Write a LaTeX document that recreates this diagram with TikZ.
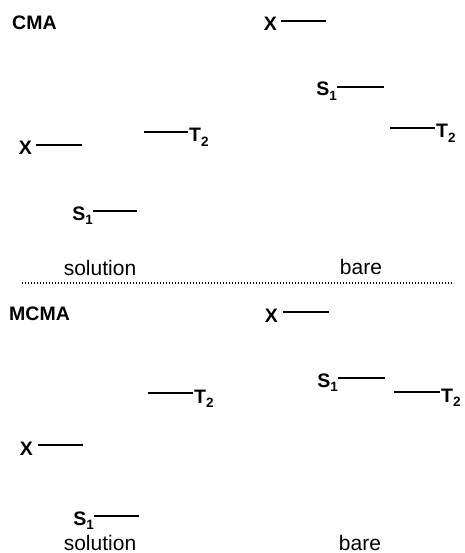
\documentclass[tikz,border=0pt]{standalone}
\usepackage{fontspec}
\setmainfont{Liberation Sans}
\newcommand\lvsub[1]{\raisebox{-0.45ex}{\fontsize{13.5}{13.5}\selectfont\bfseries #1}}
\begin{document}
\begin{tikzpicture}[x=1pt,y=-1pt,
  lab/.style={font=\bfseries\fontsize{19.5}{19.5}\selectfont, inner sep=0pt},
  captext/.style={font=\fontsize{21}{21}\selectfont, inner sep=0pt},
  lvl/.style={line width=2pt}]
\useasboundingbox (0,0) rectangle (464,553);

% ---------- top panel: CMA ----------
\node[lab, anchor=base west] (cma) at (12,30) {CMA};
% solution
\coordinate (csxa) at (36,145); \coordinate (csxb) at (82,145);
\node[lab, anchor=base east] (csx) at (32,155) {X};
\draw[lvl] (csxa) -- (csxb);
\coordinate (csta) at (144,132); \coordinate (cstb) at (188,132);
\node[lab, anchor=base west] (cst) at (189,142) {T\lvsub{2}};
\draw[lvl] (csta) -- (cstb);
\coordinate (cssa) at (93,211); \coordinate (cssb) at (137,211);
\node[lab, anchor=base east] (css) at (93,220) {S\lvsub{1}};
\draw[lvl] (cssa) -- (cssb);
\node[captext, anchor=base] (csol) at (100,275) {solution};
% bare
\coordinate (cbxa) at (281,21); \coordinate (cbxb) at (326,21);
\node[lab, anchor=base east] (cbx) at (277,31) {X};
\draw[lvl] (cbxa) -- (cbxb);
\coordinate (cbsa) at (337,87); \coordinate (cbsb) at (384,87);
\node[lab, anchor=base east] (cbs) at (337,96) {S\lvsub{1}};
\draw[lvl] (cbsa) -- (cbsb);
\coordinate (cbta) at (390,128); \coordinate (cbtb) at (435,128);
\node[lab, anchor=base west] (cbt) at (436,138) {T\lvsub{2}};
\draw[lvl] (cbta) -- (cbtb);
\node[captext, anchor=base] (cbare) at (361,274) {bare};

% ---------- separator ----------
\coordinate (sepa) at (22,283); \coordinate (sepb) at (454,283);
\draw[line width=1.4pt, dash pattern=on 1.2pt off 1.8pt] (sepa) -- (sepb);

% ---------- bottom panel: MCMA ----------
\node[lab, anchor=base west] (mcma) at (9,320) {MCMA};
% solution
\coordinate (msta) at (148,393); \coordinate (mstb) at (193,393);
\node[lab, anchor=base west] (mst) at (194,403) {T\lvsub{2}};
\draw[lvl] (msta) -- (mstb);
\coordinate (msxa) at (38,445); \coordinate (msxb) at (83,445);
\node[lab, anchor=base east] (msx) at (33,455) {X};
\draw[lvl] (msxa) -- (msxb);
\coordinate (mssa) at (94,516); \coordinate (mssb) at (139,516);
\node[lab, anchor=base east] (mss) at (94,525) {S\lvsub{1}};
\draw[lvl] (mssa) -- (mssb);
\node[captext, anchor=base] (msol) at (100,550) {solution};
% bare
\coordinate (mbxa) at (283,312); \coordinate (mbxb) at (329,312);
\node[lab, anchor=base east] (mbx) at (278,322) {X};
\draw[lvl] (mbxa) -- (mbxb);
\coordinate (mbsa) at (338,378); \coordinate (mbsb) at (385,378);
\node[lab, anchor=base east] (mbs) at (338,387) {S\lvsub{1}};
\draw[lvl] (mbsa) -- (mbsb);
\coordinate (mbta) at (394,392); \coordinate (mbtb) at (440,392);
\node[lab, anchor=base west] (mbt) at (441,402) {T\lvsub{2}};
\draw[lvl] (mbta) -- (mbtb);
\node[captext, anchor=base] (mbare) at (360,550) {bare};
\end{tikzpicture}
\end{document}
